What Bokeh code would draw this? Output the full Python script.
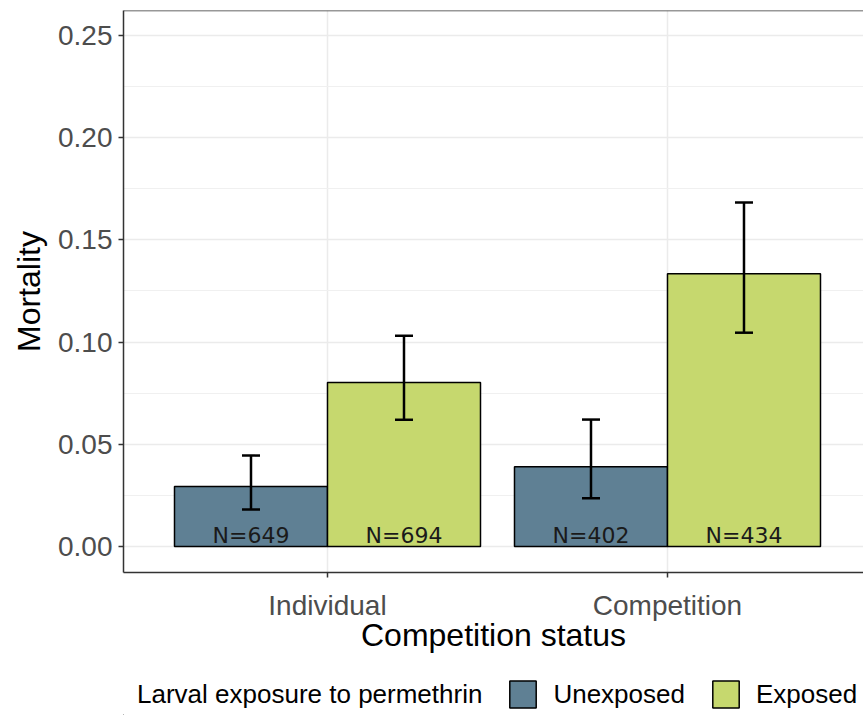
from bokeh.plotting import figure
from bokeh.layouts import column
from bokeh.models import (ColumnDataSource, Range1d, FixedTicker, Whisker, TeeHead,
                          Legend, LegendItem, Span, NumeralTickFormatter)
from bokeh.transform import dodge
from bokeh.core.properties import value
from bokeh.embed import file_html
from bokeh.resources import INLINE

# ---- data ----
categories = ["Individual", "Competition"]
groups = ["Unexposed", "Exposed"]
legend_title = "Larval exposure to permethrin"
unexposed_mean = [0.0294, 0.0390]
unexposed_lower = [0.0181, 0.0236]
unexposed_upper = [0.0445, 0.0621]
exposed_mean = [0.0802, 0.1334]
exposed_lower = [0.0620, 0.1046]
exposed_upper = [0.1031, 0.1683]
unexposed_n = [649, 402]
exposed_n = [694, 434]
y_ticks = [0.00, 0.05, 0.10, 0.15, 0.20, 0.25]
y_minor = [0.025, 0.075, 0.125, 0.175, 0.225]

# ---- styles ----
COL_UNEXP = "#5f8094"
COL_EXP = "#c6d86e"
FONT = "Liberation Sans"
BAR_W = 0.45
LABEL_Y = 0.0055

xpos = list(range(1, len(categories) + 1))

src_u = ColumnDataSource(dict(x=xpos, top=unexposed_mean, lower=unexposed_lower,
                              upper=unexposed_upper,
                              lab=["N=%d" % n for n in unexposed_n],
                              ly=[LABEL_Y] * len(xpos)))
src_e = ColumnDataSource(dict(x=xpos, top=exposed_mean, lower=exposed_lower,
                              upper=exposed_upper,
                              lab=["N=%d" % n for n in exposed_n],
                              ly=[LABEL_Y] * len(xpos)))

p = figure(frame_width=740, frame_height=562,
           x_range=Range1d(0.4, 2.5765), y_range=Range1d(-0.01272, 0.26223),
           output_backend="svg", toolbar_location=None,
           min_border_left=123, min_border_right=0, min_border_top=10,
           min_border_bottom=88)

p.outline_line_color = None
p.background_fill_color = "white"
p.border_fill_color = "white"

# grids
p.ygrid.ticker = FixedTicker(ticks=y_ticks, minor_ticks=y_minor)
p.ygrid.grid_line_color = "#ebebeb"
p.ygrid.grid_line_width = 1.5
p.ygrid.minor_grid_line_color = "#f0f0f0"
p.ygrid.minor_grid_line_width = 1.2
p.xgrid.ticker = FixedTicker(ticks=xpos)
p.xgrid.grid_line_color = "#ebebeb"
p.xgrid.grid_line_width = 1.5

# axes
p.yaxis.ticker = FixedTicker(ticks=y_ticks, minor_ticks=[])
p.yaxis.formatter = NumeralTickFormatter(format="0.00")
p.xaxis.ticker = FixedTicker(ticks=xpos, minor_ticks=[])
p.xaxis.major_label_overrides = {x: c for x, c in zip(xpos, categories)}
for ax in (p.xaxis, p.yaxis):
    ax.axis_line_color = "#333333"
    ax.axis_line_width = 1.5
    ax.major_tick_line_color = "#333333"
    ax.major_tick_line_width = 1.5
    ax.major_tick_out = 5
    ax.major_tick_in = 0
    ax.minor_tick_line_color = None
    ax.major_label_text_font = FONT
    ax.major_label_text_font_size = "28px"
    ax.major_label_text_color = "#4d4d4d"
    ax.axis_label_text_font = FONT
    ax.axis_label_text_font_size = "32px"
    ax.axis_label_text_font_style = "normal"
    ax.axis_label_text_color = "black"
p.yaxis.axis_label = "Mortality"
p.xaxis.axis_label = "Competition status"
p.yaxis.major_label_standoff = 6
p.yaxis.axis_label_standoff = 8
p.xaxis.major_label_standoff = 12
p.xaxis.axis_label_standoff = -7

# top border
p.add_layout(Span(location=0.26223, dimension="width", line_color="#333333", line_width=1.5))

# bars
r_u = p.vbar(x=dodge("x", -BAR_W / 2, range=p.x_range), top="top", bottom=0, width=BAR_W,
             source=src_u, fill_color=COL_UNEXP, line_color="black", line_width=1.5)
r_e = p.vbar(x=dodge("x", BAR_W / 2, range=p.x_range), top="top", bottom=0, width=BAR_W,
             source=src_e, fill_color=COL_EXP, line_color="black", line_width=1.5)

# error bars
for src, off in ((src_u, -BAR_W / 2), (src_e, BAR_W / 2)):
    w = Whisker(base=dodge("x", off, range=p.x_range), upper="upper", lower="lower",
                source=src, line_color="black", line_width=2.5, level="overlay",
                upper_head=TeeHead(size=18, line_width=2.5, line_color="black"),
                lower_head=TeeHead(size=18, line_width=2.5, line_color="black"))
    p.add_layout(w)

# N labels
for src, off in ((src_u, -BAR_W / 2), (src_e, BAR_W / 2)):
    p.text(x=dodge("x", off, range=p.x_range), y="ly", text="lab", source=src,
           text_font=value("DejaVu Sans"), text_font_size="22px", text_color="#1a1a1a",
           text_align="center", text_baseline="alphabetic")

# ---- legend strip below the plot ----
# its ranges are set so that the legend handle glyphs stay out of view
lg = figure(frame_width=863, frame_height=55, output_backend="svg", toolbar_location=None,
            x_axis_type=None, y_axis_type=None, min_border=0,
            x_range=Range1d(10, 11), y_range=Range1d(10, 11))
lg.outline_line_color = None
lg.xgrid.visible = False
lg.ygrid.visible = False
lg.background_fill_color = "white"
lg.border_fill_color = "white"

l_title = lg.vbar(x="x", top="top", bottom=0, width=BAR_W, source=src_u,
                  fill_alpha=0, line_alpha=0)
l_u = lg.vbar(x="x", top="top", bottom=0, width=BAR_W, source=src_u,
              fill_color=COL_UNEXP, line_color="black", line_width=1.5)
l_e = lg.vbar(x="x", top="top", bottom=0, width=BAR_W, source=src_e,
              fill_color=COL_EXP, line_color="black", line_width=1.5)

legend = Legend(items=[LegendItem(label=legend_title, renderers=[l_title]),
                       LegendItem(label=groups[0], renderers=[l_u]),
                       LegendItem(label=groups[1], renderers=[l_e])],
                orientation="horizontal", location=(90, 4),
                glyph_width=33, glyph_height=34, label_standoff=14, spacing=24,
                padding=2, margin=0, border_line_color=None, background_fill_alpha=0,
                label_text_font=FONT, label_text_font_size="26px", label_text_color="black",
                label_height=34)
lg.add_layout(legend, "center")

layout = column(p, lg, spacing=0)
open("out.html", "w").write(file_html(layout, INLINE))
